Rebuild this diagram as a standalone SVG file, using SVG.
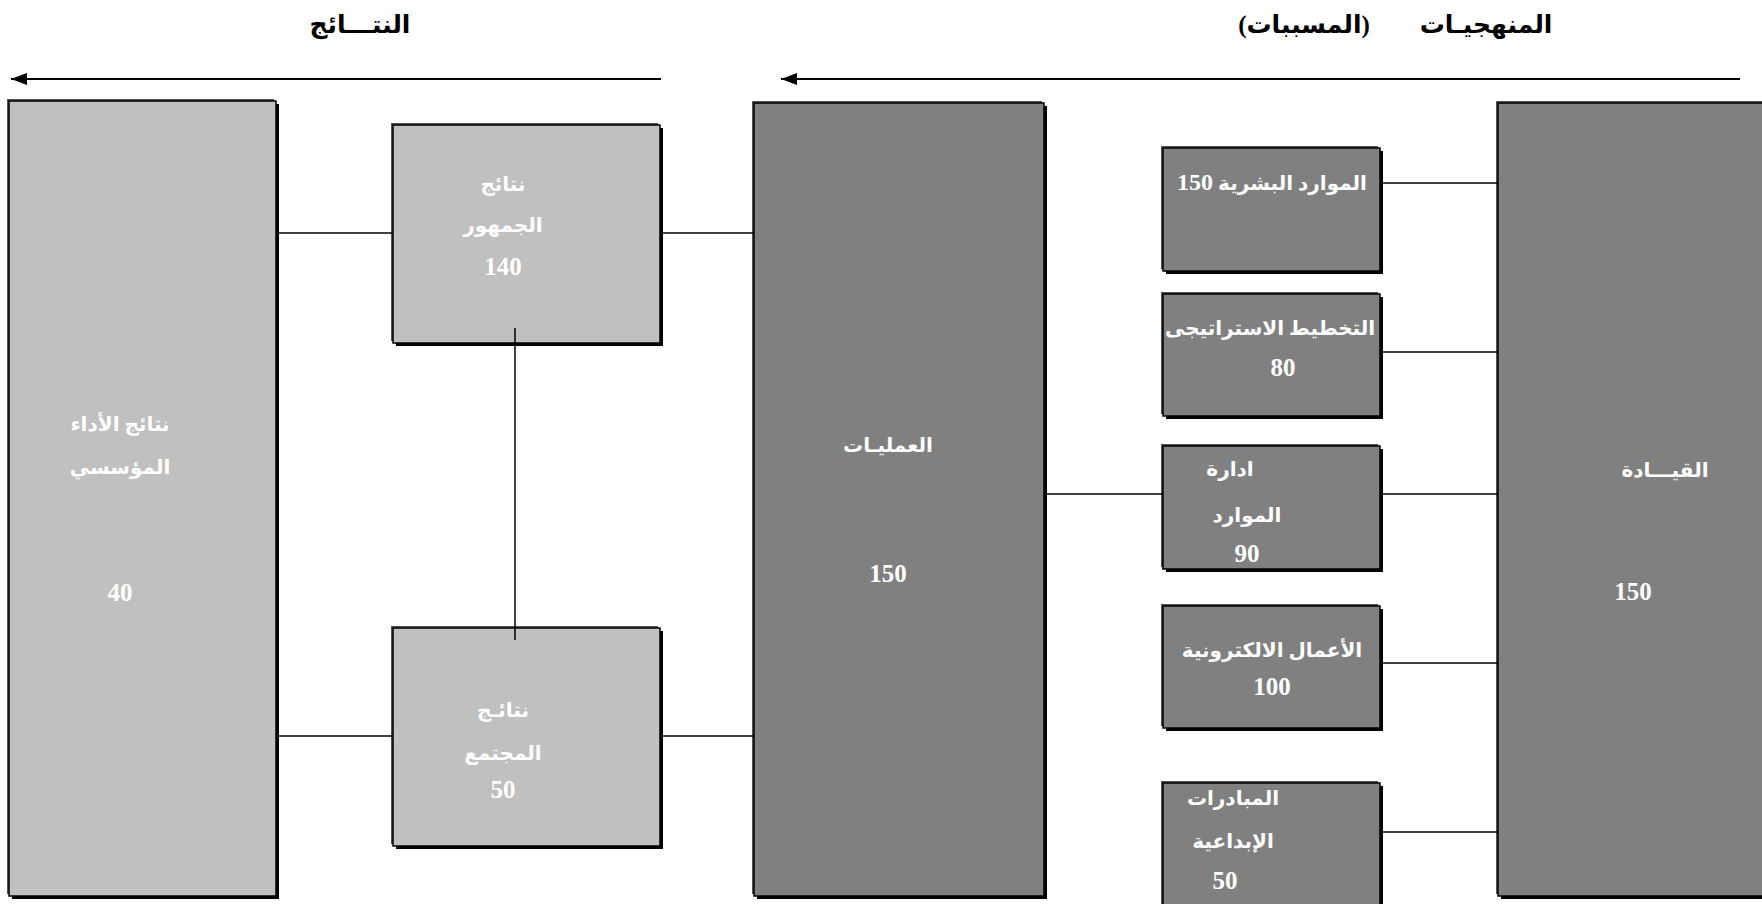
<svg xmlns="http://www.w3.org/2000/svg" width="1762" height="904" viewBox="0 0 1762 904">
  <style>
    .rim { fill: #555555; }
    .drop { fill: #000000; }
    .light { fill: #C0C0C0; stroke: #000000; stroke-width: 1.5; }
    .dark { fill: #808080; stroke: #000000; stroke-width: 1.5; }
    .lbl { fill: #FFFFFF; font-family: "Liberation Serif", "DejaVu Sans", serif; font-weight: bold; font-size: 20px; text-anchor: middle; direction: rtl; }
    .num { fill: #FFFFFF; font-family: "Liberation Serif", serif; font-weight: bold; font-size: 25px; text-anchor: middle; }
    .big { font-size: 24px; }
    .title { fill: #000000; font-family: "Liberation Serif", "DejaVu Sans", serif; font-weight: bold; font-size: 25px; text-anchor: middle; direction: rtl; }
    .wire { stroke: #000000; stroke-width: 1.5; fill: none; }
    .flow { stroke: #000000; stroke-width: 2; fill: none; }
  </style>
  <defs>
    <!-- solid triangular head; tip sits on the line end -->
    <marker id="head" markerWidth="16" markerHeight="12" refX="16" refY="6" orient="auto" markerUnits="userSpaceOnUse">
      <path d="M0,0 L16,6 L0,12 Z" fill="#000000"/>
    </marker>
  </defs>

  <rect width="1762" height="904" fill="#FFFFFF"/>

  <!-- headings -->
  <g id="headings">
    <text class="title" x="360" y="33">النتـــائج</text>
    <text class="title" x="1486" y="33">المنهجيـات</text>
    <text class="title" x="1304" y="33">(المسببات)</text>
  </g>

  <!-- flow arrows -->
  <g id="flow-arrows">
    <line class="flow" x1="661" y1="79" x2="11" y2="79" marker-end="url(#head)"/>
    <line class="flow" x1="1740" y1="79" x2="781" y2="79" marker-end="url(#head)"/>
  </g>

  <!-- results column -->
  <g id="node-institutional">
    <rect class="rim" x="7" y="99" width="267" height="795"/>
    <rect class="drop" x="12" y="104" width="267" height="795"/>
    <rect class="light" x="9" y="101" width="267" height="795"/>
    <text class="lbl" x="120" y="431">نتائج الأداء</text>
    <text class="lbl" x="120" y="474">المؤسسي</text>
    <text class="num" x="120" y="601">40</text>
  </g>

  <g id="node-public">
    <rect class="rim" x="391" y="123" width="267" height="218"/>
    <rect class="drop" x="396" y="128" width="267" height="218"/>
    <rect class="light" x="393" y="125" width="267" height="218"/>
    <text class="lbl" x="503" y="191">نتائج</text>
    <text class="lbl" x="503" y="232">الجمهور</text>
    <text class="num" x="503" y="275">140</text>
  </g>

  <g id="node-society">
    <rect class="rim" x="391" y="626" width="267" height="218"/>
    <rect class="drop" x="396" y="631" width="267" height="218"/>
    <rect class="light" x="393" y="628" width="267" height="218"/>
    <text class="lbl" x="503" y="717">نتائـج</text>
    <text class="lbl" x="503" y="760">المجتمع</text>
    <text class="num" x="503" y="798">50</text>
  </g>

  <!-- enablers column -->
  <g id="node-processes">
    <rect class="rim" x="752" y="101" width="290" height="793"/>
    <rect class="drop" x="757" y="106" width="290" height="793"/>
    <rect class="dark" x="754" y="103" width="290" height="793"/>
    <text class="lbl" x="888" y="452">العمليـات</text>
    <text class="num" x="888" y="582">150</text>
  </g>

  <g id="node-hr">
    <rect class="rim" x="1161" y="146" width="217" height="123"/>
    <rect class="drop" x="1166" y="151" width="217" height="123"/>
    <rect class="dark" x="1163" y="148" width="217" height="123"/>
    <text class="lbl" x="1272" y="190">الموارد البشرية <tspan class="big">150</tspan></text>
  </g>

  <g id="node-strategy">
    <rect class="rim" x="1161" y="292" width="217" height="122"/>
    <rect class="drop" x="1166" y="297" width="217" height="122"/>
    <rect class="dark" x="1163" y="294" width="217" height="122"/>
    <text class="lbl" x="1270" y="335">التخطيط الاستراتيجى</text>
    <text class="num" x="1283" y="376">80</text>
  </g>

  <g id="node-resources">
    <rect class="rim" x="1161" y="444" width="217" height="123"/>
    <rect class="drop" x="1166" y="449" width="217" height="123"/>
    <rect class="dark" x="1163" y="446" width="217" height="123"/>
    <text class="lbl" x="1230" y="476">ادارة</text>
    <text class="lbl" x="1247" y="522">الموارد</text>
    <text class="num" x="1247" y="562">90</text>
  </g>

  <g id="node-ebusiness">
    <rect class="rim" x="1161" y="604" width="217" height="122"/>
    <rect class="drop" x="1166" y="609" width="217" height="122"/>
    <rect class="dark" x="1163" y="606" width="217" height="122"/>
    <text class="lbl" x="1272" y="657">الأعمال الالكترونية</text>
    <text class="num" x="1272" y="695">100</text>
  </g>

  <g id="node-initiatives">
    <rect class="rim" x="1161" y="781" width="217" height="130"/>
    <rect class="drop" x="1166" y="786" width="217" height="130"/>
    <rect class="dark" x="1163" y="783" width="217" height="130"/>
    <text class="lbl" x="1233" y="805">المبادرات</text>
    <text class="lbl" x="1233" y="848">الإبداعية</text>
    <text class="num" x="1225" y="889">50</text>
  </g>

  <g id="node-leadership">
    <rect class="rim" x="1496" y="101" width="280" height="793"/>
    <rect class="drop" x="1501" y="106" width="280" height="793"/>
    <rect class="dark" x="1498" y="103" width="280" height="793"/>
    <text class="lbl" x="1665" y="477">القيـــادة</text>
    <text class="num" x="1633" y="600">150</text>
  </g>

  <!-- connectors -->
  <g id="connectors">
    <line class="wire" x1="279" y1="233" x2="393" y2="233"/>
    <line class="wire" x1="663" y1="233" x2="754" y2="233"/>
    <line class="wire" x1="279" y1="736" x2="393" y2="736"/>
    <line class="wire" x1="663" y1="736" x2="754" y2="736"/>
    <line class="wire" x1="515" y1="328" x2="515" y2="640"/>
    <line class="wire" x1="1047" y1="494" x2="1163" y2="494"/>
    <line class="wire" x1="1383" y1="183" x2="1498" y2="183"/>
    <line class="wire" x1="1383" y1="352" x2="1498" y2="352"/>
    <line class="wire" x1="1383" y1="494" x2="1498" y2="494"/>
    <line class="wire" x1="1383" y1="663" x2="1498" y2="663"/>
    <line class="wire" x1="1383" y1="832" x2="1498" y2="832"/>
  </g>
</svg>
